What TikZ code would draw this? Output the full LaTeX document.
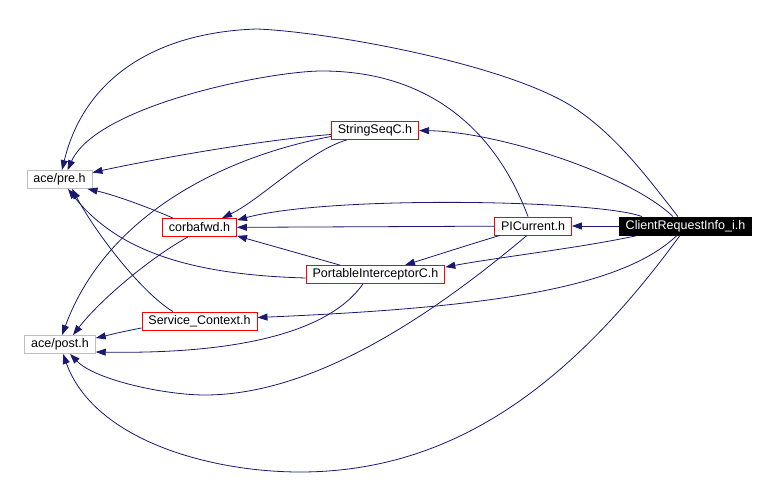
\documentclass[tikz,border=0pt]{standalone}
\usepackage{fontspec}
\setmainfont{Liberation Sans}
\usetikzlibrary{arrows.meta}
\definecolor{midnight}{HTML}{191970}

\begin{document}
\begin{tikzpicture}[x=1pt,y=-1pt,font=\fontsize{12.5}{14}\selectfont,
  hdr/.style={draw=red,line width=0.8pt,inner xsep=6.5pt,inner ysep=0pt,minimum height=18pt},
  sys/.style={hdr,draw=black!25},
  inc/.style={midnight,line width=0.8pt,-{Triangle[length=10pt,width=7pt]}}]

\useasboundingbox (0,0) rectangle (774,489);

% headers
\node[sys] (pre) at (59.5,179.5) {ace/pre.h};
\node[sys] (post) at (60,344.5) {ace/post.h};
\node[hdr] (cfwd) at (199.5,227.5) {corbafwd.h};
\node[hdr] (svc) at (199.5,321) {Service\_Context.h};
\node[hdr] (sseq) at (375,130.5) {StringSeqC.h};
\node[hdr] (pic) at (375.5,274.5) {PortableInterceptorC.h};
\node[hdr] (picur) at (533,226) {PICurrent.h};
\node[hdr,draw=black,fill=black,text=white] (cri) at (685.5,226) {ClientRequestInfo\_i.h};

% ClientRequestInfo_i.h
\draw[inc] (cri) -- (picur);
\draw[inc] ([shift={(-12.5,0)}]cri.north) .. controls (630,175) and (500,132) .. (sseq.east);
\draw[inc] ([shift={(-43.5,0)}]cri.north) .. controls (600,200) and (330,195) .. ([shift={(0,2)}]cfwd.north east);
\draw[inc] ([shift={(-47.5,0)}]cri.south) .. controls (580,248) and (500,257) .. ([shift={(0,2)}]pic.north east);
\draw[inc] ([shift={(-8.5,0)}]cri.south) .. controls (620,290) and (480,308) .. ([shift={(0,-3.5)}]svc.east);
\draw[inc] ([shift={(-7.5,0)}]cri.north) .. controls (647,177) and (616,135) .. (573,107)
  .. controls (506,64) and (330,32) .. (257,29) .. controls (160,32) and (85,75) .. ([shift={(2.5,0)}]pre.north);
\draw[inc] ([shift={(-5.5,0)}]cri.south) .. controls (568,389) and (450,472) .. (300,472)
  .. controls (210,472) and (94,440) .. ([shift={(3,0)}]post.south);

% PICurrent.h
\draw[inc] (picur) -- (cfwd);
\draw[inc] ([shift={(-33,0)}]picur.south) .. controls (468,245) and (437,255) .. ([shift={(29.5,0)}]pic.north);
\draw[inc] ([shift={(-5,0)}]picur.north) .. controls (493,123) and (422,71) .. (322,71)
  .. controls (270,71) and (97,105) .. ([shift={(8,0)}]pre.north);
\draw[inc] ([shift={(-6,0)}]picur.south) .. controls (443,306) and (320,395) .. (205,395)
  .. controls (165,395) and (95,380) .. ([shift={(10,0)}]post.south);

% StringSeqC.h
\draw[inc] ([shift={(0,4)}]sseq.west) .. controls (260,140) and (150,160) .. ([shift={(0,-7)}]pre.east);
\draw[inc] ([shift={(0,6)}]sseq.west) .. controls (213,159) and (104,221) .. ([shift={(2,0)}]post.north);
\draw[inc] ([shift={(-28,0)}]sseq.south) .. controls (310,150) and (260,200) .. ([shift={(22.5,0)}]cfwd.north);

% corbafwd.h
\draw[inc] ([shift={(-26.5,0)}]cfwd.north) .. controls (150,208) and (115,195) .. ([shift={(-5,0)}]pre.south east);
\draw[inc] ([shift={(-11.5,0)}]cfwd.south) .. controls (150,258) and (100,300) .. ([shift={(13,0)}]post.north);

% PortableInterceptorC.h
\draw[inc] ([shift={(-35.5,0)}]pic.north) -- ([shift={(0,-1)}]cfwd.south east);
\draw[inc] ([shift={(0,3.5)}]pic.west) .. controls (200,275) and (120,255) .. ([shift={(8.5,0)}]pre.south);
\draw[inc] ([shift={(-12.5,0)}]pic.south) .. controls (325,338) and (220,354) .. ([shift={(0,7.5)}]post.east);

% Service_Context.h
\draw[inc] ([shift={(-26.5,0)}]svc.north) .. controls (145,295) and (100,240) .. ([shift={(12.5,0)}]pre.south);
\draw[inc] ([shift={(0,7)}]svc.west) .. controls (120,332) and (105,336) .. ([shift={(0,-6.5)}]post.east);

\end{tikzpicture}
\end{document}
